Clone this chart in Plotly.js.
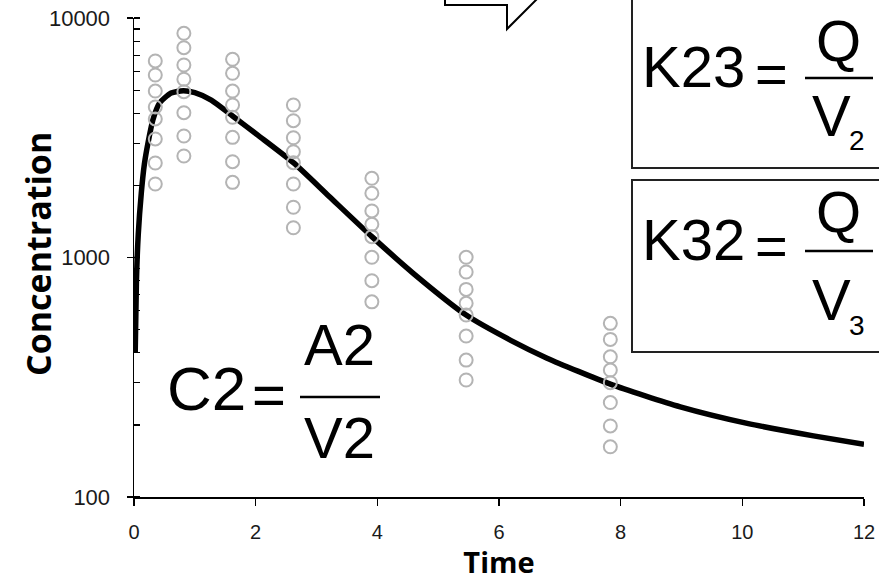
<!DOCTYPE html>
<html>
<head>
<meta charset="utf-8">
<script src="https://cdn.plot.ly/plotly-3.0.1.min.js"></script>
<style>html,body{margin:0;padding:0;background:#fff;}#chart{width:879px;height:581px;}</style>
</head>
<body>
<div id="chart"></div>
<script>
// ---- data ----
const obsTimes = [0.35, 0.82, 1.62, 2.62, 3.91, 5.46, 7.83];
const obsCol1 = [6615, 5781, 4955, 4250, 3788, 3126, 2481, 2027];
const obsCol2 = [8632, 7517, 6364, 5549, 4923, 4024, 3216, 2653];
const obsCol3 = [6724, 5877, 4955, 4333, 3850, 3175, 2512, 2060];
const obsCol4 = [4333, 3725, 3162, 2766, 2488, 2027, 1621, 1331];
const obsCol5 = [2142, 1854, 1564, 1376, 1222, 1002, 800, 653];
const obsCol6 = [1002, 870, 736, 644, 575, 470, 373, 308];
const obsCol7 = [531, 455, 385, 339, 300, 248, 198, 162];

const curveTime = [0.02, 0.04, 0.07, 0.12, 0.17, 0.23, 0.31, 0.42, 0.61, 0.81, 1.0, 1.27, 1.62, 2.04, 2.62, 3.2, 3.91, 4.6, 5.46, 6.2, 6.79, 7.83, 8.98, 10.08, 11.17, 12];
const curveConc = [403, 800, 1250, 1858, 2450, 3007, 3751, 4416, 4862, 4972, 4880, 4545, 3900, 3236, 2488, 1807, 1222, 855, 575, 450, 380, 296, 238, 203, 180, 166];

const xTickVals = [0, 2, 4, 6, 8, 10, 12];
const xTickText = ['0', '2', '4', '6', '8', '10', '12'];
const yTickVals = [100, 1000, 10000];
const yTickText = ['100', '1000', '10000'];

// ---- build traces ----
const cols = [obsCol1, obsCol2, obsCol3, obsCol4, obsCol5, obsCol6, obsCol7];
const ox = [], oy = [];
cols.forEach((c, i) => c.forEach(v => { ox.push(obsTimes[i]); oy.push(v); }));

const traces = [
  {x: curveTime, y: curveConc, type: 'scatter', mode: 'lines',
   line: {color: '#000', width: 5.5, shape: 'spline', smoothing: 0.6},
   hoverinfo: 'skip', showlegend: false},
  {x: ox, y: oy, type: 'scatter', mode: 'markers',
   marker: {symbol: 'circle-open', size: 13, color: '#b4b4b4', line: {width: 2, color: '#b4b4b4'}},
   hoverinfo: 'skip', showlegend: false, cliponaxis: false}
];

// pixel -> paper helpers (plot area 134..864 x 18..497)
const L = 134, R = 864, T = 18, B = 497;
const px = v => (v - L) / (R - L);
const py = v => (B - v) / (B - T);

const eqFont = (s) => ({family: 'Liberation Sans, Arial, sans-serif', size: s, color: '#000'});
function ann(text, x, y, font, xa) {
  return {text: text, xref: 'paper', yref: 'paper', x: px(x), y: py(y),
          xanchor: xa || 'center', yanchor: 'middle', showarrow: false, font: font};
}

const annotations = [
  ann('C2', 165, 388, eqFont(62), 'left'),
  ann('=', 269, 394, eqFont(58)),
  ann('A2', 339, 344, eqFont(58)),
  ann('V2', 339, 437, eqFont(58)),
  ann('K23', 640, 67, eqFont(58), 'left'),
  ann('=', 771, 74, eqFont(56)),
  ann('Q', 838, 41, eqFont(58)),
  ann('V', 831, 115, eqFont(58)),
  ann('2', 857, 141, eqFont(28)),
  ann('K32', 640, 239, eqFont(58), 'left'),
  ann('=', 771, 246, eqFont(56)),
  ann('Q', 838, 211, eqFont(58)),
  ann('V', 831, 299, eqFont(58)),
  ann('3', 857, 325, eqFont(28)),
  // y axis title
  {text: '<b>Concentration</b>', xref: 'paper', yref: 'paper', x: px(38), y: py(254),
   xanchor: 'center', yanchor: 'middle', textangle: -90, showarrow: false,
   font: {family: 'Open Sans, sans-serif', size: 34, color: '#000'}}
];

const lineSt = {color: '#000', width: 2};
const shapes = [
  {type: 'rect', xref: 'paper', yref: 'paper', x0: px(632), x1: px(895), y0: py(168), y1: py(-20), line: {color: '#222', width: 2}, fillcolor: 'rgba(255,255,255,0)', layer: 'below'},
  {type: 'rect', xref: 'paper', yref: 'paper', x0: px(632), x1: px(895), y0: py(352), y1: py(180), line: {color: '#222', width: 2}, fillcolor: 'rgba(255,255,255,0)', layer: 'below'},
  {type: 'line', xref: 'paper', yref: 'paper', x0: px(300), x1: px(380), y0: py(397), y1: py(397), line: {color: '#000', width: 2.5}},
  {type: 'line', xref: 'paper', yref: 'paper', x0: px(805), x1: px(873), y0: py(78), y1: py(78), line: {color: '#000', width: 2.5}},
  {type: 'line', xref: 'paper', yref: 'paper', x0: px(805), x1: px(873), y0: py(251), y1: py(251), line: {color: '#000', width: 2.5}},
  {type: 'path', xref: 'paper', yref: 'paper',
   path: 'M ' + px(445) + ',' + py(-5) + ' L ' + px(445) + ',' + py(5) + ' L ' + px(507) + ',' + py(5) +
         ' L ' + px(507) + ',' + py(29) + ' L ' + px(539) + ',' + py(-3),
   line: lineSt},
  // inner half of the crossing major ticks on the y axis
  {type: 'line', xref: 'paper', yref: 'paper', x0: 0, x1: px(140), y0: py(18), y1: py(18), line: {color: '#000', width: 1.5}},
  {type: 'line', xref: 'paper', yref: 'paper', x0: 0, x1: px(140), y0: py(257.5), y1: py(257.5), line: {color: '#000', width: 1.5}},
  {type: 'line', xref: 'paper', yref: 'paper', x0: 0, x1: px(140), y0: py(497), y1: py(497), line: {color: '#000', width: 1.5}}
];

const layout = {
  width: 879, height: 581,
  margin: {l: 134, r: 15, t: 18, b: 84, pad: 0},
  paper_bgcolor: '#fff', plot_bgcolor: '#fff',
  showlegend: false,
  xaxis: {
    range: [0, 12], tickmode: 'array', tickvals: xTickVals, ticktext: xTickText,
    showgrid: false, zeroline: false,
    showline: true, linecolor: '#000', linewidth: 1.5,
    ticks: 'outside', ticklen: 7, tickwidth: 1.5, tickcolor: '#000',
    tickfont: {family: 'Liberation Sans, Arial, sans-serif', size: 20, color: '#1a1a1a'},
    ticklabelstandoff: 9,
    title: {text: '<b>Time</b>', font: {family: 'Open Sans, sans-serif', size: 29, color: '#000'}, standoff: 6}
  },
  yaxis: {
    type: 'log', range: [2, 4], tickmode: 'array', tickvals: yTickVals, ticktext: yTickText,
    showgrid: false, zeroline: false,
    showline: true, linecolor: '#000', linewidth: 1.5,
    ticks: 'outside', ticklen: 6, tickwidth: 1.5, tickcolor: '#000',
    minor: {dtick: 'D1', ticks: 'inside', ticklen: 6, tickwidth: 1.2, tickcolor: '#000', showgrid: false},
    tickfont: {family: 'Liberation Sans, Arial, sans-serif', size: 22, color: '#1a1a1a'},
    ticklabelstandoff: 12
  },
  annotations: annotations,
  shapes: shapes
};

Plotly.newPlot('chart', traces, layout, {staticPlot: true, displayModeBar: false});
</script>
</body>
</html>
